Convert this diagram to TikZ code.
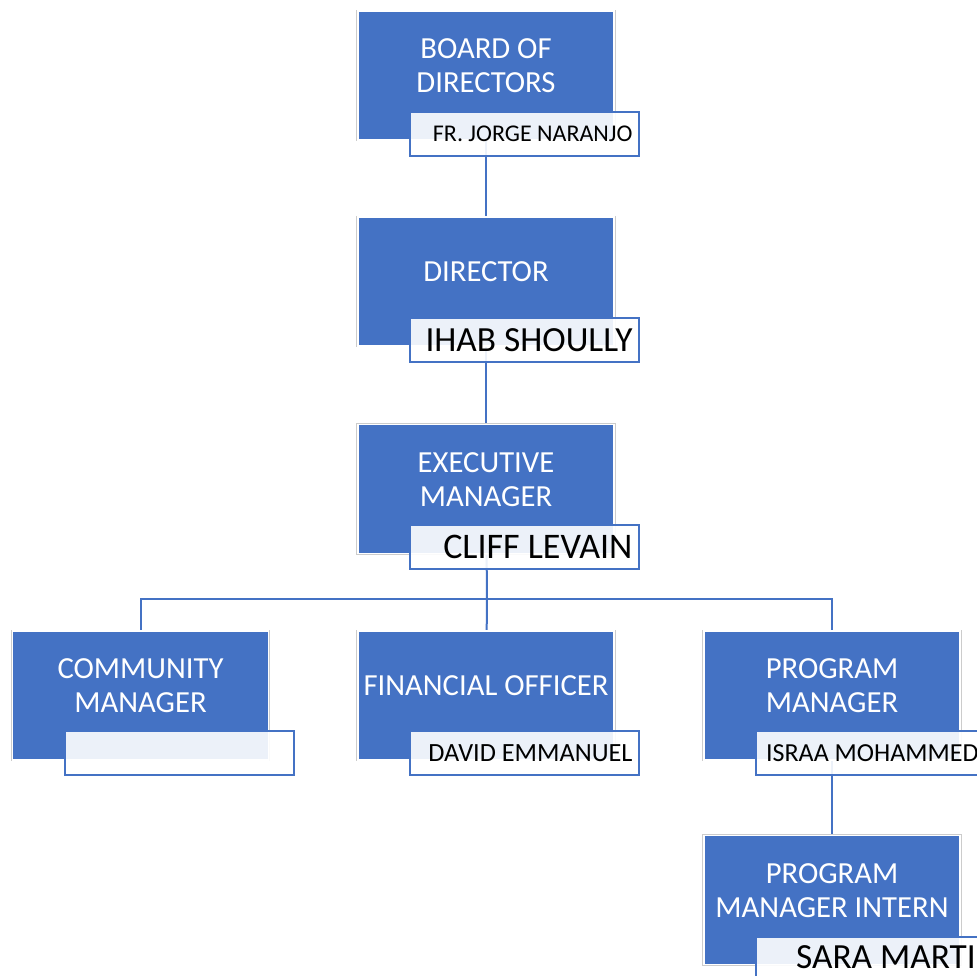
\documentclass[tikz,border=0pt]{standalone}
\usepackage{fontspec}
\setmainfont{Carlito}
\usepackage{tikz}
\usetikzlibrary{backgrounds}
\definecolor{unitblue}{HTML}{4472C4}

\begin{document}
\begin{tikzpicture}[x=0.75pt, y=-0.75pt,
	unit/.style={rectangle, fill=unitblue, draw=white, line width=1.2pt,
		preaction={draw=black!20, line width=2.4pt},
		minimum width=192pt, minimum height=96.5pt, inner sep=0pt},
	unittitle/.style={text=white, align=center, font=\fontsize{23}{25.5}\selectfont},
	namebox/.style={rectangle, draw=unitblue, line width=1.5pt, fill=white,
		fill opacity=0.9, text opacity=1, text=black, inner ysep=0pt,
		inner xsep=5pt, text width=162pt, minimum height=33pt, align=flush right},
	link/.style={draw=unitblue, line width=1.5pt}]
	  \useasboundingbox (0, 0) rectangle (977, 975);
	  \clip (0, 0) rectangle (977, 975);
	  \node[unit](board) at (486, 75.5) {};
	  \node[unittitle](board-t) at ([shift={(0, -9.5)}]board.center) {BOARD OF\\DIRECTORS};
	  \node[namebox, font=\fontsize{18}{20}\selectfont](board-n) at ([shift={(38.5, 58)}]board.center) {FR. JORGE NARANJO};
	  \node[unit](director) at (486, 281.5) {};
	  \node[unittitle](director-t) at ([shift={(0, -9.5)}]director.center) {DIRECTOR};
	  \node[namebox, font=\fontsize{26.5}{29}\selectfont](director-n) at ([shift={(38.5, 58.5)}]director.center) {IHAB SHOULLY};
	  \node[unit](exec) at (486, 489) {};
	  \node[unittitle](exec-t) at ([shift={(0, -9.5)}]exec.center) {EXECUTIVE\\MANAGER};
	  \node[namebox, font=\fontsize{27}{29}\selectfont](exec-n) at ([shift={(38.5, 58)}]exec.center) {CLIFF LEVAIN};
	  \node[unit](community) at (140.5, 695.5) {};
	  \node[unittitle](community-t) at ([shift={(0, -9.5)}]community.center) {COMMUNITY\\MANAGER};
	  \node[namebox](community-n) at ([shift={(39, 57.5)}]community.center) {};
	  \node[unit](financial) at (486, 695.5) {};
	  \node[unittitle](financial-t) at ([shift={(0, -9.5)}]financial.center) {FINANCIAL OFFICER};
	  \node[namebox, font=\fontsize{19.7}{22}\selectfont](financial-n) at ([shift={(38.5, 57.5)}]financial.center) {DAVID EMMANUEL};
	  \node[unit](program) at (832, 695.5) {};
	  \node[unittitle](program-t) at ([shift={(0, -9.5)}]program.center) {PROGRAM\\MANAGER};
	  \node[namebox, font=\fontsize{19.5}{22}\selectfont](program-n) at ([shift={(38.5, 57.5)}]program.center) {ISRAA MOHAMMED};
	  \node[unit](intern) at (832, 900) {};
	  \node[unittitle](intern-t) at ([shift={(0, -9.5)}]intern.center) {PROGRAM\\MANAGER INTERN};
	  \node[namebox](intern-n) at ([shift={(38.5, 59)}]intern.center) {};
	  \node[anchor=west, inner sep=0pt, font=\fontsize{26.5}{29}\selectfont](intern-t2) at ([shift={(41, -2)}]intern-n.west) {SARA MARTI};
	  \coordinate (bus) at (487, 599);
	  \begin{scope}[on background layer]
	  \draw[link](board.center) -- (director.center);
	  \draw[link](director.center) -- (exec.center);
	  \draw[link](exec.center) -- (bus);
	  \draw[link](community.center) |- (bus) -| (program.center);
	  \draw[link](bus) -- (financial.center);
	  \draw[link](program.center) -- (intern.center);
	  \end{scope}
	\end{tikzpicture}
\end{document}
